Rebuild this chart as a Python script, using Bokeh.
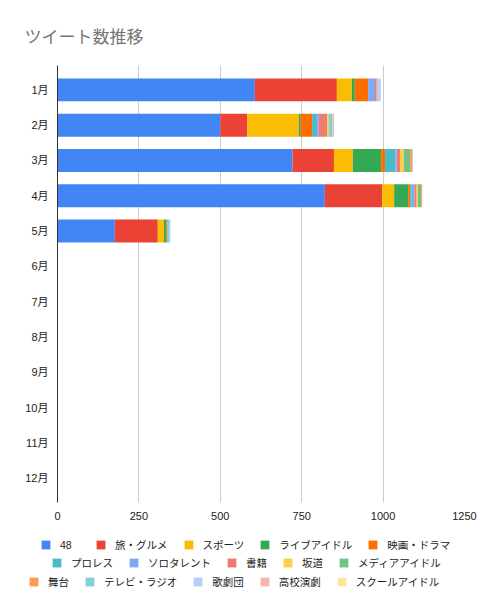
from bokeh.plotting import figure
from bokeh.layouts import column
from bokeh.models import ColumnDataSource, FactorRange, Range1d, Legend, LegendItem, FixedTicker
from bokeh.embed import file_html
from bokeh.resources import INLINE

months = ["1月", "2月", "3月", "4月", "5月", "6月", "7月", "8月", "9月", "10月", "11月", "12月"]
series_names = ["48", "旅・グルメ", "スポーツ", "ライブアイドル", "映画・ドラマ",
                "プロレス", "ソロタレント", "書籍", "坂道", "メディアアイドル",
                "舞台", "テレビ・ラジオ", "歌劇団", "高校演劇", "スクールアイドル"]
colors = ["#4285F4", "#EA4335", "#FBBC04", "#34A853", "#FF6D01",
          "#46BDC6", "#7BAAF7", "#F07B72", "#FCD04F", "#71C287",
          "#FF994D", "#7ED1D7", "#B3CEFB", "#F7B4AE", "#FDE49B"]

v_48 = [606, 500, 722, 821, 176, 0, 0, 0, 0, 0, 0, 0]
v_gourmet = [252, 83, 127, 176, 132, 0, 0, 0, 0, 0, 0, 0]
v_sports = [46, 158, 58, 37, 19, 0, 0, 0, 0, 0, 0, 0]
v_live = [9, 6, 87, 43, 6, 0, 0, 0, 0, 0, 0, 0]
v_drama = [41, 35, 12, 6, 3, 0, 0, 0, 0, 0, 0, 0]
v_prowres = [0, 12, 31, 5, 0, 0, 0, 0, 0, 0, 0, 0]
v_solo = [21, 8, 5, 8, 0, 0, 0, 0, 0, 0, 0, 0]
v_books = [5, 26, 10, 7, 0, 0, 0, 0, 0, 0, 0, 0]
v_sakamichi = [0, 5, 12, 4, 0, 0, 0, 0, 0, 0, 0, 0]
v_media = [0, 3, 19, 10, 0, 0, 0, 0, 0, 0, 0, 0]
v_stage = [3, 0, 6, 3, 0, 0, 0, 0, 0, 0, 0, 0]
v_tv = [0, 9, 2, 0, 8, 0, 0, 0, 0, 0, 0, 0]
v_kagekidan = [10, 0, 0, 0, 3, 0, 0, 0, 0, 0, 0, 0]
v_koukou = [0, 4, 0, 0, 0, 0, 0, 0, 0, 0, 0, 0]
v_school = [0, 0, 0, 0, 0, 0, 0, 0, 0, 0, 0, 0]

x_ticks = [0, 250, 500, 750, 1000, 1250]

keys = ["s%d" % i for i in range(15)]
all_values = [v_48, v_gourmet, v_sports, v_live, v_drama, v_prowres, v_solo, v_books,
              v_sakamichi, v_media, v_stage, v_tv, v_kagekidan, v_koukou, v_school]
data = {"month": months}
for k, v in zip(keys, all_values):
    data[k] = v
source = ColumnDataSource(data)

FONT = "'Liberation Sans', 'Noto Sans CJK JP'"
JFONT = "'Noto Sans CJK JP'"

p = figure(width=488, height=530, output_backend="svg", toolbar_location=None,
           y_range=FactorRange(factors=list(reversed(months)), range_padding=0.19,
                               range_padding_units="absolute"),
           x_range=Range1d(0, 1250), title="ツイート数推移")
p.frame_align = False
p.min_border_left = 57
p.min_border_right = 24
p.min_border_top = 65
p.min_border_bottom = 28
p.outline_line_color = None

p.title.text_font = JFONT
p.title.text_font_size = "17px"
p.title.text_font_style = "normal"
p.title.text_color = "#757575"
p.title.offset = -33
p.title.standoff = 35

renderers = p.hbar_stack(keys, y="month", height=0.65, color=colors, source=source,
                         line_color=None)

p.xaxis.ticker = FixedTicker(ticks=x_ticks)
p.xaxis.axis_line_color = None
p.xaxis.major_tick_line_color = None
p.xaxis.minor_tick_line_color = None
p.xaxis.major_label_standoff = 3
p.xaxis.major_label_text_font = FONT
p.xaxis.major_label_text_font_size = "11px"
p.xaxis.major_label_text_color = "#222222"

p.yaxis.axis_line_color = "#333333"
p.yaxis.major_tick_line_color = None
p.yaxis.minor_tick_line_color = None
p.yaxis.major_label_standoff = 3
p.yaxis.major_label_text_font = FONT
p.yaxis.major_label_text_font_size = "11px"
p.yaxis.major_label_text_color = "#222222"

p.xgrid.grid_line_color = "#cccccc"
p.ygrid.grid_line_color = None

# legend strip (second figure, whole canvas is its frame)
p2 = figure(width=488, height=83, output_backend="svg", toolbar_location=None,
            y_range=FactorRange(factors=months), x_range=Range1d(-2, -1),
            x_axis_location=None, y_axis_location=None)
p2.frame_align = False
p2.min_border = 0
p2.min_border_left = 0
p2.min_border_right = 0
p2.min_border_top = 0
p2.min_border_bottom = 0
p2.outline_line_color = None
p2.grid.grid_line_color = None
dummies = p2.hbar_stack(keys, y="month", height=0.65, color=colors, source=source,
                        line_color=None)

rows = [range(0, 5), range(5, 10), range(10, 15)]
row_locs = [(40, 61), (51, 43), (28, 24)]
for rr, loc in zip(rows, row_locs):
    items = [LegendItem(label=series_names[i], renderers=[dummies[i]]) for i in rr]
    leg = Legend(items=items, orientation="horizontal", location=loc,
                 glyph_width=11, glyph_height=11, label_standoff=9, spacing=15,
                 margin=0, padding=2, label_height=14, border_line_color=None,
                 background_fill_alpha=0,
                 label_text_font=FONT, label_text_font_size="10.5px",
                 label_text_color="#222222")
    p2.add_layout(leg, "center")

layout = column(p, p2, spacing=0)
open("out.html", "w").write(file_html(layout, INLINE))
